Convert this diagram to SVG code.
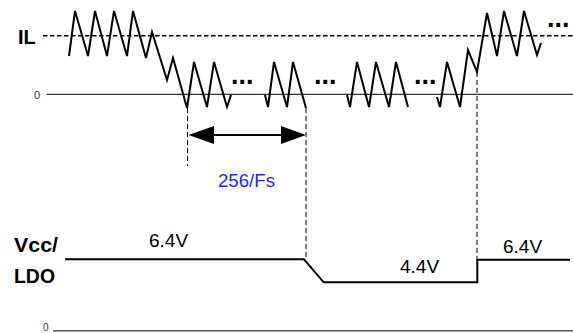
<svg xmlns="http://www.w3.org/2000/svg" width="573" height="333" viewBox="0 0 573 333">
<style>
text{font-family:"Liberation Sans",Arial,sans-serif;fill:#000}
.lbl{font-weight:bold;font-size:20px}
.val{font-size:19px}
.dots{font-weight:bold;font-size:27px}
.zero{font-size:11px;fill:#333}
.wave{fill:none;stroke:#000;stroke-width:2;stroke-linejoin:miter}
.vdash{fill:none;stroke:#000;stroke-width:1;stroke-dasharray:5 3}
</style>
<rect width="573" height="333" fill="#fff"/>
<g id="il-axis">
<text class="lbl" x="18" y="43.5">IL</text>
<line x1="43" y1="35.7" x2="573" y2="35.7" stroke="#000" stroke-width="1.6" stroke-dasharray="4.5 2.5"/>
<text class="zero" x="34" y="98.5">0</text>
<line x1="46.5" y1="94.3" x2="573" y2="94.3" stroke="#000" stroke-width="1"/>
</g>
<g id="il-wave">
<polyline class="wave" points="69,56 75,11 88,56 95,11 107,56 114,11 127,56 133,11 146,58 152,32 167,80 173,58 187,108 194,62 207,107 214,62 227,107 231,95"/>
<text class="dots" x="231" y="84">...</text>
<polyline class="wave" points="265,95 268,107 274,62 287,107 293,62 306,108"/>
<text class="dots" x="314" y="84">...</text>
<polyline class="wave" points="347,95 350,107 357,62 369,107 376,62 389,107 396,62 408,107"/>
<text class="dots" x="414" y="84">...</text>
<polyline class="wave" points="437,97 440,107 447,62 460,107 468,50 477,72 487,13 497,56 504,11 517,56 524,11 537,55 541,43"/>
<text class="dots" x="547" y="27">...</text>
</g>
<g id="connectors">
<line class="vdash" x1="187.5" y1="108" x2="187.5" y2="166"/>
<line class="vdash" x1="306" y1="108" x2="306" y2="258"/>
<line class="vdash" x1="477" y1="72" x2="477" y2="260"/>
<line x1="205" y1="135" x2="290" y2="135" stroke="#000" stroke-width="2"/>
<polygon points="188.5,135 214,126 214,144" fill="#000"/>
<polygon points="306,135 281,126 281,144" fill="#000"/>
</g>
<g id="period-label">
<text class="val" x="218" y="187.3" fill="#1f1fff" style="fill:#1f1fff" textLength="57" lengthAdjust="spacingAndGlyphs">256/Fs</text>
</g>
<g id="vcc-axis">
<text class="lbl" x="14" y="251.7" font-size="21" textLength="44" lengthAdjust="spacingAndGlyphs">Vcc/</text>
<text class="lbl" x="14" y="283.3" textLength="41" lengthAdjust="spacingAndGlyphs">LDO</text>
<text class="zero" x="43" y="330.5" style="font-size:10px">0</text>
<line x1="53" y1="330.7" x2="573" y2="330.7" stroke="#555" stroke-width="1.5"/>
</g>
<g id="vcc-wave">
<polyline class="wave" points="65,259.3 304,259.3 323.7,282.3 477.3,282.3 477.3,259.8 570,259.8"/>
<text class="val" x="149" y="246.7">6.4V</text>
<text class="val" x="400" y="272.7">4.4V</text>
<text class="val" x="503" y="253.3">6.4V</text>
</g>
</svg>
